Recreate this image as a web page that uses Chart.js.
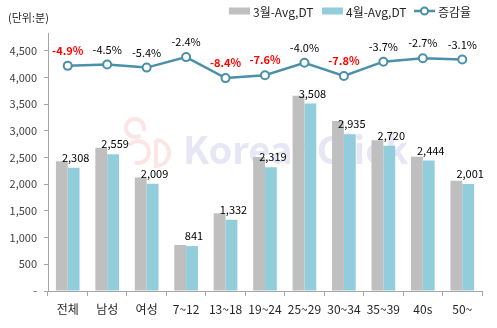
<!DOCTYPE html>
<html>
<head>
<meta charset="utf-8">
<script src="https://cdn.jsdelivr.net/npm/chart.js@4"></script>
<style>
  html, body { margin: 0; padding: 0; background: #fff; }
  #wrap { position: relative; width: 497px; height: 328px; }
</style>
</head>
<body>
<div id="wrap"><canvas id="graph1" width="497" height="328"></canvas></div>
<script>
const categories = ['전체', '남성', '여성', '7~12', '13~18', '19~24', '25~29', '30~34', '35~39', '40s', '50~'];
const march = [2427, 2680, 2124, 862, 1454, 2510, 3654, 3183, 2824, 2512, 2065];
const april = [2308, 2559, 2009, 841, 1332, 2319, 3508, 2935, 2720, 2444, 2001];
const rate = [-4.9, -4.5, -5.4, -2.4, -8.4, -7.6, -4.0, -7.8, -3.7, -2.7, -3.1];
const yTicks = [0, 500, 1000, 1500, 2000, 2500, 3000, 3500, 4000, 4500];
const seriesNames = ['3월-Avg,DT', '4월-Avg,DT', '증감율'];
const redLabels = ['전체', '13~18', '19~24', '30~34'];

const FONT = '"Noto Sans CJK KR", "Noto Sans", sans-serif';
const GRAY = '#BFBFBF';
const BLUE = '#92CDDC';
const LINE = '#4A90A8';

const fmt = v => v.toLocaleString('en-US');

// value labels above the blue bars and above the line points
const labelPlugin = {
  id: 'labels',
  afterDatasetsDraw(chart) {
    const ctx = chart.ctx;
    ctx.save();
    ctx.textAlign = 'center';
    ctx.textBaseline = 'middle';
    chart.getDatasetMeta(1).data.forEach((bar, i) => {
      ctx.font = '11px ' + FONT;
      ctx.fillStyle = '#000';
      ctx.fillText(fmt(april[i]), bar.x + 2, bar.y - 10);
    });
    chart.getDatasetMeta(2).data.forEach((pt, i) => {
      const red = redLabels.includes(categories[i]);
      ctx.font = (red ? 'bold ' : '') + '11px ' + FONT;
      ctx.fillStyle = red ? '#FF0000' : '#000';
      ctx.fillText(rate[i].toFixed(1) + '%', pt.x, pt.y - 15);
    });
    ctx.restore();
  }
};

// faint logo behind the bars, unit note and legend on top
const decoPlugin = {
  id: 'deco',
  beforeDatasetsDraw(chart) {
    const ctx = chart.ctx;
    ctx.save();
    ctx.strokeStyle = 'rgba(245,170,170,0.3)';
    ctx.lineWidth = 4;
    ctx.beginPath();
    ctx.arc(135, 128, 9, 0.3 * Math.PI, 2.1 * Math.PI);
    ctx.stroke();
    ctx.beginPath();
    ctx.arc(138, 152, 11, 1.2 * Math.PI, 2.6 * Math.PI);
    ctx.stroke();
    ctx.beginPath();
    ctx.moveTo(156, 140);
    ctx.lineTo(156, 166);
    ctx.arc(156, 153, 13, 0.5 * Math.PI, 1.5 * Math.PI, true);
    ctx.stroke();

    ctx.font = 'bold 38px ' + FONT;
    ctx.fillStyle = 'rgba(210,210,236,0.55)';
    ctx.textAlign = 'left';
    ctx.textBaseline = 'middle';
    ctx.fillText('KoreanClick', 183, 150);
    ctx.restore();
  },
  afterDraw(chart) {
    const ctx = chart.ctx;
    ctx.save();
    ctx.textBaseline = 'middle';
    ctx.textAlign = 'left';
    ctx.font = '11px ' + FONT;
    ctx.fillStyle = '#262626';
    ctx.fillText('(단위:분)', 8, 18);

    const y = 11;
    ctx.fillStyle = GRAY;
    ctx.fillRect(229, y - 3.5, 21, 7);
    ctx.fillStyle = BLUE;
    ctx.fillRect(322, y - 3.5, 21, 7);
    ctx.strokeStyle = LINE;
    ctx.lineWidth = 2.5;
    ctx.beginPath();
    ctx.moveTo(414, y);
    ctx.lineTo(435, y);
    ctx.stroke();
    ctx.beginPath();
    ctx.arc(424.5, y, 3.5, 0, Math.PI * 2);
    ctx.fillStyle = '#fff';
    ctx.fill();
    ctx.lineWidth = 2;
    ctx.stroke();

    ctx.fillStyle = '#262626';
    ctx.font = '12px ' + FONT;
    ctx.fillText(seriesNames[0], 253, y + 1);
    ctx.fillText(seriesNames[1], 346, y + 1);
    ctx.fillText(seriesNames[2], 438, y + 1);
    ctx.restore();
  }
};

const data = {
  labels: categories,
  datasets: [
    {
      label: seriesNames[0],
      data: march,
      backgroundColor: GRAY,
      categoryPercentage: 0.6,
      barPercentage: 1.0,
      order: 1
    },
    {
      label: seriesNames[1],
      data: april,
      backgroundColor: BLUE,
      categoryPercentage: 0.6,
      barPercentage: 1.0,
      order: 1
    },
    {
      type: 'line',
      label: seriesNames[2],
      data: rate,
      yAxisID: 'y1',
      borderColor: LINE,
      borderWidth: 2.5,
      pointRadius: 4,
      pointBorderWidth: 2,
      pointBackgroundColor: '#fff',
      pointBorderColor: LINE,
      tension: 0,
      order: 0
    }
  ]
};

const config = {
  type: 'bar',
  data: data,
  options: {
    responsive: false,
    animation: false,
    layout: { padding: { top: 33, right: 15, left: 0, bottom: 0 } },
    plugins: {
      legend: { display: false },
      tooltip: { enabled: false }
    },
    scales: {
      x: {
        offset: true,
        border: { color: '#A6A6A6', width: 1 },
        grid: { display: true, drawOnChartArea: false, offset: true, tickLength: 5, color: '#A6A6A6' },
        ticks: { color: '#262626', padding: 6, font: { size: 12, family: FONT }, maxRotation: 0, autoSkip: false },
        afterFit(scale) { scale.height = 37; }
      },
      y: {
        min: 0,
        max: 4830,
        border: { color: '#A6A6A6', width: 1 },
        grid: { display: true, drawOnChartArea: false, tickLength: 4, color: '#A6A6A6' },
        ticks: {
          autoSkip: false,
          color: '#404040',
          padding: 7,
          font: { size: 11, family: FONT },
          callback: v => v === 0 ? '-' : fmt(v)
        },
        afterBuildTicks(scale) {
          scale.ticks = yTicks.map(v => ({ value: v }));
        },
        afterFit(scale) { scale.width = 48; }
      },
      y1: {
        display: false,
        min: -69.3,
        max: 4.5
      }
    }
  },
  plugins: [labelPlugin, decoPlugin]
};

new Chart(document.querySelector('#graph1'), config);
</script>
</body>
</html>
